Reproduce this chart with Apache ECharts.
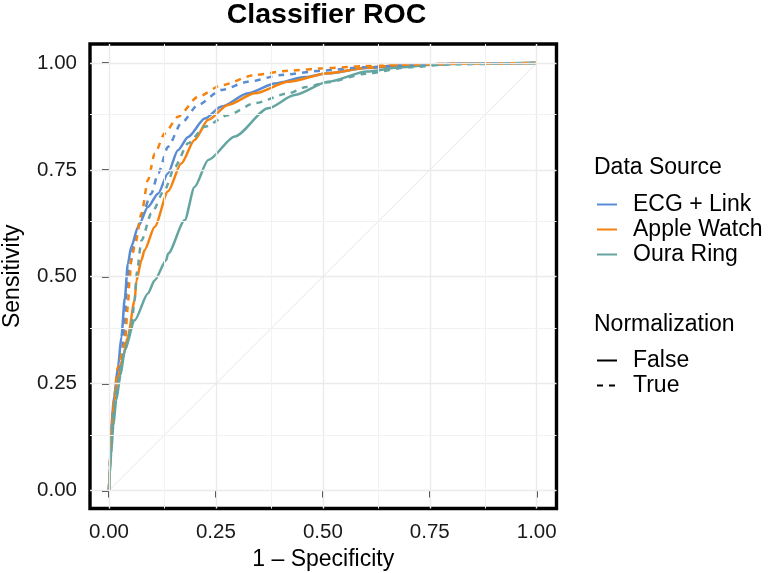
<!DOCTYPE html>
<html>
<head>
<meta charset="utf-8">
<script src="https://cdn.jsdelivr.net/npm/echarts@6/dist/echarts.min.js"></script>
<style>html,body{margin:0;padding:0;background:#fff;}#c{width:776px;height:573px;}</style>
</head>
<body>
<div id="c"></div>
<script>
// ---- data ----
const sources = ['ECG + Link', 'Apple Watch', 'Oura Ring'];
const normLevels = ['False', 'True'];
const tickValues = [0, 0.25, 0.5, 0.75, 1];
const tickLabels = ['0.00', '0.25', '0.50', '0.75', '1.00'];
const minorValues = [0.125, 0.375, 0.625, 0.875];

const ecgFalseFpr = [0, 0.002, 0.005, 0.012, 0.021, 0.029, 0.037, 0.044, 0.052, 0.068, 0.091, 0.115, 0.138, 0.161, 0.185, 0.224, 0.263, 0.325, 0.388, 0.458, 0.512, 0.6, 0.7, 0.8, 0.9, 1];
const ecgFalseTpr = [0, 0.06, 0.148, 0.22, 0.289, 0.359, 0.45, 0.53, 0.57, 0.617, 0.663, 0.695, 0.742, 0.796, 0.827, 0.87, 0.898, 0.929, 0.952, 0.967, 0.976, 0.988, 0.995, 0.998, 0.999, 1];

const appleFalseFpr = [0, 0.002, 0.005, 0.013, 0.021, 0.032, 0.044, 0.06, 0.064, 0.076, 0.083, 0.107, 0.138, 0.169, 0.2, 0.232, 0.278, 0.341, 0.419, 0.512, 0.603, 0.68, 0.8, 1];
const appleFalseTpr = [0, 0.06, 0.133, 0.211, 0.265, 0.31, 0.359, 0.445, 0.49, 0.539, 0.562, 0.617, 0.70, 0.765, 0.82, 0.867, 0.902, 0.929, 0.956, 0.976, 0.989, 0.995, 0.998, 1];

const ouraFalseFpr = [0, 0.002, 0.005, 0.01, 0.017, 0.027, 0.037, 0.06, 0.091, 0.107, 0.134, 0.138, 0.177, 0.2, 0.232, 0.294, 0.372, 0.434, 0.512, 0.603, 0.68, 0.758, 0.85, 1];
const ouraFalseTpr = [0, 0.04, 0.086, 0.15, 0.211, 0.27, 0.328, 0.398, 0.461, 0.492, 0.539, 0.554, 0.632, 0.71, 0.773, 0.828, 0.894, 0.925, 0.956, 0.98, 0.99, 0.996, 0.999, 1];

const ecgTrueFpr = [0, 0.003, 0.01, 0.02, 0.029, 0.037, 0.041, 0.048, 0.06, 0.076, 0.099, 0.115, 0.138, 0.169, 0.208, 0.263, 0.325, 0.403, 0.497, 0.6, 0.7, 0.8, 1];
const ecgTrueTpr = [0, 0.08, 0.19, 0.26, 0.32, 0.382, 0.461, 0.52, 0.586, 0.64, 0.695, 0.742, 0.804, 0.859, 0.902, 0.937, 0.956, 0.972, 0.982, 0.99, 0.995, 0.998, 1];

const appleTrueFpr = [0, 0.003, 0.01, 0.021, 0.037, 0.044, 0.048, 0.052, 0.06, 0.076, 0.091, 0.107, 0.13, 0.161, 0.208, 0.263, 0.341, 0.419, 0.512, 0.6, 0.7, 0.8, 1];
const appleTrueTpr = [0, 0.08, 0.2, 0.289, 0.344, 0.429, 0.49, 0.539, 0.57, 0.648, 0.726, 0.788, 0.835, 0.874, 0.921, 0.948, 0.972, 0.982, 0.988, 0.993, 0.996, 0.998, 1];

const ouraTrueFpr = [0, 0.003, 0.01, 0.02, 0.037, 0.052, 0.06, 0.065, 0.076, 0.099, 0.13, 0.154, 0.185, 0.224, 0.278, 0.341, 0.419, 0.462, 0.512, 0.6, 0.7, 0.8, 1];
const ouraTrueTpr = [0, 0.07, 0.18, 0.25, 0.328, 0.382, 0.445, 0.51, 0.585, 0.648, 0.703, 0.757, 0.812, 0.851, 0.878, 0.906, 0.929, 0.944, 0.955, 0.975, 0.99, 0.997, 1];

const diagX = [0, 1];
const diagY = [0, 1];

// ---- build ----
const colors = {'ECG + Link': '#5A8CD3', 'Apple Watch': '#F5820F', 'Oura Ring': '#64A5A1'};
const zip = (a, b) => a.map((v, i) => [v, b[i]]);
const curves = [
  {name: 'ECG + Link', dash: false, x: ecgFalseFpr, y: ecgFalseTpr},
  {name: 'Apple Watch', dash: false, x: appleFalseFpr, y: appleFalseTpr},
  {name: 'Oura Ring', dash: false, x: ouraFalseFpr, y: ouraFalseTpr},
  {name: 'ECG + Link', dash: true, x: ecgTrueFpr, y: ecgTrueTpr},
  {name: 'Apple Watch', dash: true, x: appleTrueFpr, y: appleTrueTpr},
  {name: 'Oura Ring', dash: true, x: ouraTrueFpr, y: ouraTrueTpr}
];

const FONT = '"Liberation Sans", Arial, Helvetica, sans-serif';
const gridColor = '#EBEBEB';
const DASH = [6, 6];
const LW = 2.5;

const series = [];
// gridlines
series.push({
  type: 'line', data: [], silent: true, z: 1,
  markLine: {
    silent: true, symbol: 'none', label: {show: false}, animation: false,
    data: [
      ...tickValues.map(v => ({xAxis: v, lineStyle: {color: gridColor, width: 1.4, type: 'solid'}})),
      ...tickValues.map(v => ({yAxis: v, lineStyle: {color: gridColor, width: 1.4, type: 'solid'}})),
      ...minorValues.map(v => ({xAxis: v, lineStyle: {color: '#F2F2F2', width: 1, type: 'solid'}})),
      ...minorValues.map(v => ({yAxis: v, lineStyle: {color: '#F2F2F2', width: 1, type: 'solid'}}))
    ]
  }
});
// diagonal
series.push({
  type: 'line', data: zip(diagX, diagY), symbol: 'none', silent: true, z: 2,
  lineStyle: {color: '#E6E6E6', width: 1}
});
curves.forEach(c => {
  series.push({
    name: c.name, type: 'line', data: zip(c.x, c.y), symbol: 'none', showSymbol: false,
    smooth: 0.25, smoothMonotone: 'x', z: 3,
    color: colors[c.name],
    lineStyle: {color: colors[c.name], width: LW, type: c.dash ? DASH : 'solid'}
  });
});
normLevels.forEach((n, i) => {
  series.push({
    name: n, type: 'line', data: [], symbol: 'none', color: '#000',
    lineStyle: {color: '#000', width: LW, type: i === 1 ? DASH : 'solid'}
  });
});

const axisCommon = {
  type: 'value',
  nameLocation: 'middle',
  nameTextStyle: {fontFamily: FONT, fontSize: 23, color: '#000'},
  axisLine: {show: false},
  axisTick: {show: true, inside: false, length: 7, customValues: tickValues, lineStyle: {color: '#333', width: 2}},
  axisLabel: {
    show: true, margin: 13, customValues: tickValues, fontFamily: FONT, fontSize: 20.5, color: '#1A1A1A',
    formatter: v => tickLabels[tickValues.indexOf(v)] ?? ''
  },
  splitLine: {show: false}
};

const legendCommon = {
  orient: 'vertical', left: 596, padding: 0, itemGap: 0,
  itemWidth: 20, itemHeight: 14, selectedMode: false,
  itemStyle: {opacity: 0},
  textStyle: {fontFamily: FONT, fontSize: 23, color: '#000', lineHeight: 25, padding: [0, 0, 0, 11]}
};

const option = {
  backgroundColor: '#fff',
  animation: false,
  title: [
    {text: 'Classifier ROC', left: 326.5, top: 1, textAlign: 'center', padding: 0,
     textStyle: {fontFamily: FONT, fontSize: 28.5, fontWeight: 'bold', color: '#000'}},
    {text: 'Data Source', left: 594, top: 156, padding: 0,
     textStyle: {fontFamily: FONT, fontSize: 23, fontWeight: 'normal', color: '#000'}},
    {text: 'Normalization', left: 594, top: 313, padding: 0,
     textStyle: {fontFamily: FONT, fontSize: 23, fontWeight: 'normal', color: '#000'}}
  ],
  legend: [
    Object.assign({}, legendCommon, {data: sources, top: 192, lineStyle: {type: 'solid'}}),
    Object.assign({}, legendCommon, {data: normLevels, top: 348})
  ],
  grid: {left: 90, right: 219.5, top: 44, bottom: 64.5, show: true, borderColor: '#000', borderWidth: 3.4,
         backgroundColor: 'transparent', containLabel: false, outerBoundsMode: 'none'},
  xAxis: Object.assign({}, axisCommon, {min: -0.0444, max: 1.0463, name: '1 \u2013 Specificity', nameGap: 40}),
  yAxis: Object.assign({}, axisCommon, {min: -0.0421, max: 1.0444, name: 'Sensitivity', nameGap: 66}),
  series: series
};

const chart = echarts.init(document.getElementById('c'), null, {renderer: 'canvas'});
chart.setOption(option);
</script>
</body>
</html>
